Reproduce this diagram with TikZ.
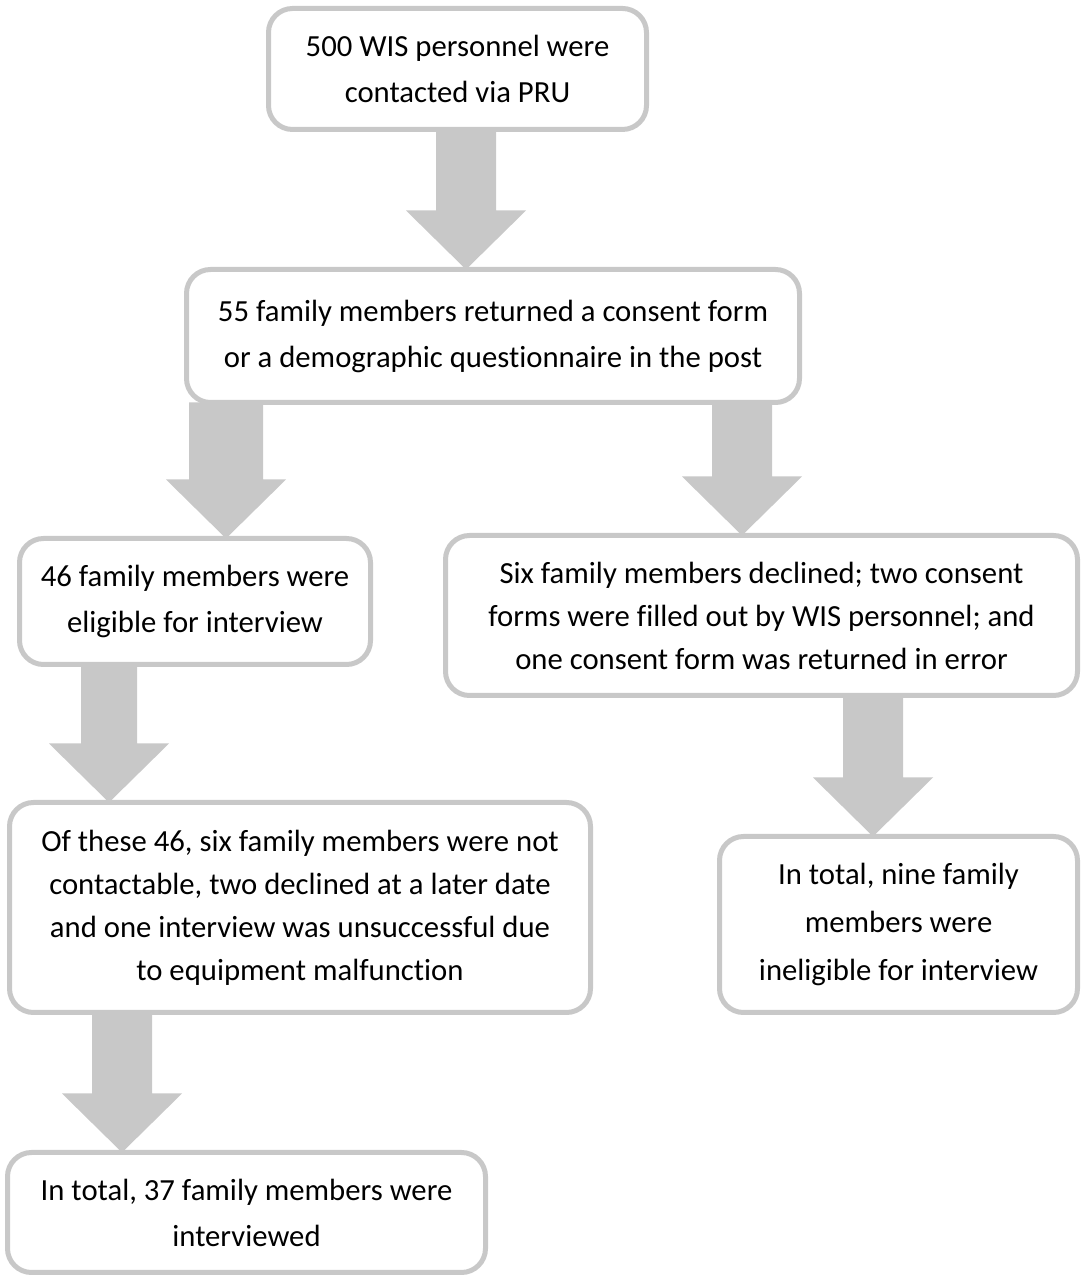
\documentclass[tikz,border=0pt]{standalone}
\usepackage{fontspec}
\setmainfont{Carlito}[RawFeature=-liga]
\usetikzlibrary{calc,backgrounds}
\definecolor{boxgray}{RGB}{200,200,200}
\definecolor{arrgray}{RGB}{200,200,200}
\tikzset{
  flowbox/.style={draw=boxgray, line width=5pt, rounded corners=24pt, fill=white,
    inner sep=0pt, outer sep=0pt, align=center, text=black,
    font=\fontsize{30.7}{46}\selectfont},
  tight/.style={font=\fontsize{30.7}{43}\selectfont},
  loose/.style={font=\fontsize{30.7}{48}\selectfont},
  blockarrow/.style={fill=arrgray, draw=none}
}
% #1 centre x, #2 source node, #3 target node, #4 half shaft width
\newcommand\blkarrow[4]{%
  \begin{scope}[on background layer]
  \fill[blockarrow] let \p1=(#2.south), \p2=(#3.north), \p0=(#1,0) in
    (\x0-#4pt,\y1) -- (\x0+#4pt,\y1) -- (\x0+#4pt,\y2+59pt) -- (\x0+60pt,\y2+59pt)
    -- (\x0,\y2) -- (\x0-60pt,\y2+59pt) -- (\x0-#4pt,\y2+59pt) -- cycle;
  \end{scope}}
\begin{document}
\begin{tikzpicture}[x=1pt,y=1pt]
\begin{scope}[on background layer]
\fill[white] (0,0) rectangle (1083,1280);
\end{scope}
\useasboundingbox (0,0) rectangle (1083,1280);

\node[flowbox, minimum width=378pt, minimum height=121pt] (b1) at (457.5,1211)
  {500 WIS personnel were\\contacted via PRU};
\node[flowbox, minimum width=613pt, minimum height=133pt] (b2) at (493,944)
  {55 family members returned a consent form\\or a demographic questionnaire in the post};
\node[flowbox, minimum width=351pt, minimum height=126pt] (b3) at (195,678.5)
  {46 family members were\\eligible for interview};
\node[flowbox, tight, minimum width=632pt, minimum height=160pt] (b6) at (761.5,664.5)
  {Six family members declined; two consent\\forms were filled out by WIS personnel; and\\one consent form was returned in error};
\node[flowbox, tight, minimum width=581pt, minimum height=210pt] (b4) at (300,372.5)
  {Of these 46, six family members were not\\contactable, two declined at a later date\\and one interview was unsuccessful due\\to equipment malfunction};
\node[flowbox, loose, minimum width=358pt, minimum height=176pt] (b7) at (898.5,355.5)
  {In total, nine family\\members were\\ineligible for interview};
\node[flowbox, minimum width=478pt, minimum height=120pt] (b5) at (246.5,67.5)
  {In total, 37 family members were\\interviewed};

\blkarrow{466}{b1}{b2}{30}
\blkarrow{226}{b2}{b3}{37}
\blkarrow{742}{b2}{b6}{30}
\blkarrow{109}{b3}{b4}{28}
\blkarrow{873}{b6}{b7}{30}
\blkarrow{122}{b4}{b5}{30}
\end{tikzpicture}
\end{document}
